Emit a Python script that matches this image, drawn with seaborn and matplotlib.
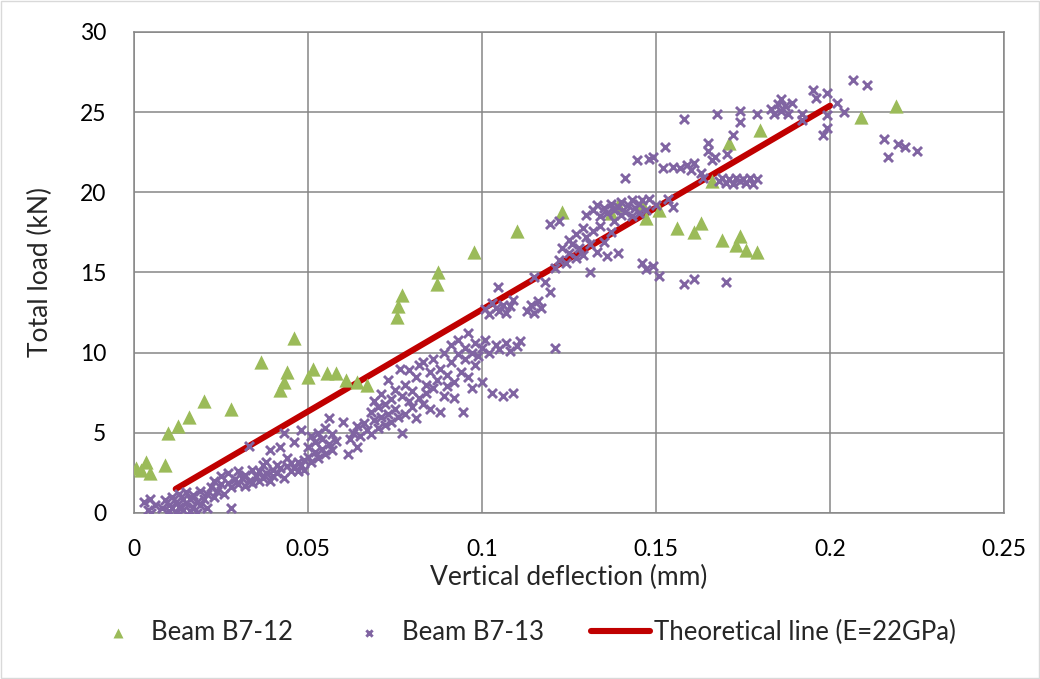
import numpy as np
import pandas as pd
import seaborn as sns
import matplotlib.pyplot as plt
from matplotlib.patches import Rectangle

# Beam B7-12 (green triangles)
b12_x = [0.0006, 0.002, 0.0035, 0.0046, 0.009, 0.0098, 0.0126, 0.0158, 0.020, 0.028,
         0.0365, 0.042, 0.043, 0.044, 0.046, 0.050, 0.0515, 0.0555, 0.058, 0.061,
         0.064, 0.067, 0.0756, 0.076, 0.077, 0.087, 0.0873, 0.0977, 0.110, 0.123,
         0.137, 0.139, 0.146, 0.147, 0.151, 0.156, 0.161, 0.163, 0.166, 0.169,
         0.171, 0.173, 0.174, 0.176, 0.179, 0.180, 0.209, 0.219]
b12_y = [2.8, 2.7, 3.2, 2.5, 3.0, 5.0, 5.4, 6.0, 7.0, 6.5,
         9.4, 7.7, 8.2, 8.8, 10.9, 8.5, 9.0, 8.7, 8.7, 8.3,
         8.2, 8.0, 12.2, 12.9, 13.6, 14.3, 15.0, 16.3, 17.6, 18.8,
         18.7, 19.2, 19.3, 18.4, 18.9, 17.8, 17.5, 18.1, 20.7, 17.0,
         23.1, 16.7, 17.3, 16.4, 16.3, 23.9, 24.7, 25.4]

# Beam B7-13 (purple crosses)
b13_x = [
    0.003, 0.004, 0.005, 0.006, 0.0045, 0.008, 0.009, 0.010, 0.010, 0.011,
    0.011, 0.012, 0.012, 0.013, 0.013, 0.014, 0.014, 0.015, 0.015, 0.016,
    0.016, 0.017, 0.017, 0.018, 0.018, 0.019, 0.019, 0.020, 0.021, 0.021,
    0.022, 0.023, 0.023, 0.024, 0.025, 0.025, 0.026, 0.027, 0.027, 0.028,
    0.028, 0.029, 0.030, 0.030, 0.031, 0.032, 0.032, 0.033, 0.033, 0.034,
    0.034, 0.035,
    0.036, 0.036, 0.037, 0.037, 0.038, 0.038, 0.039, 0.039, 0.040, 0.040,
    0.041, 0.041, 0.042, 0.042, 0.043, 0.043, 0.044, 0.044, 0.045, 0.045,
    0.046, 0.046, 0.047, 0.047, 0.048, 0.048, 0.049, 0.049,
    0.050, 0.050, 0.051, 0.051, 0.052, 0.052, 0.053, 0.053, 0.054, 0.054,
    0.055, 0.055, 0.056, 0.056, 0.057, 0.057, 0.058, 0.060, 0.0615, 0.062,
    0.063, 0.064, 0.064, 0.065, 0.066, 0.067, 0.068, 0.068, 0.069, 0.069,
    0.070, 0.070, 0.071, 0.071, 0.072, 0.072, 0.073, 0.073, 0.074, 0.074,
    0.075, 0.075, 0.076, 0.0765, 0.077, 0.077,
    0.078, 0.078, 0.079, 0.079, 0.080, 0.080, 0.081, 0.081, 0.082, 0.082,
    0.083, 0.083, 0.084, 0.084, 0.085, 0.085, 0.086, 0.086, 0.087, 0.088,
    0.088, 0.089, 0.089, 0.090, 0.090, 0.091, 0.091, 0.092, 0.092, 0.093,
    0.093, 0.094, 0.0945, 0.095, 0.095, 0.096, 0.096, 0.097, 0.097, 0.098,
    0.098, 0.099,
    0.100, 0.100, 0.101, 0.101, 0.102, 0.102, 0.103, 0.103, 0.104, 0.104,
    0.1046, 0.105, 0.105, 0.106, 0.106, 0.107, 0.107, 0.108, 0.108, 0.109,
    0.109, 0.110, 0.111, 0.113, 0.114, 0.115, 0.115, 0.116, 0.117, 0.118,
    0.1196, 0.121,
    0.1195, 0.121, 0.122, 0.122, 0.123, 0.124, 0.125, 0.125, 0.126, 0.127,
    0.127, 0.128, 0.129, 0.129, 0.130, 0.130, 0.131, 0.131, 0.132, 0.132,
    0.133, 0.133, 0.134, 0.134, 0.135, 0.135, 0.136, 0.136, 0.137, 0.137,
    0.138, 0.138, 0.139, 0.139, 0.140, 0.140, 0.141, 0.141, 0.142, 0.143,
    0.143, 0.144, 0.1445, 0.145, 0.145, 0.146, 0.146, 0.147, 0.147, 0.148,
    0.148, 0.149, 0.149, 0.150, 0.151, 0.152,
    0.1526, 0.1535, 0.155, 0.155, 0.157, 0.158, 0.158, 0.159, 0.160, 0.161,
    0.161, 0.163, 0.1635, 0.165, 0.165, 0.166, 0.1675, 0.167, 0.168, 0.169,
    0.170, 0.170, 0.1705, 0.171, 0.172, 0.172, 0.173, 0.174, 0.174, 0.174,
    0.175, 0.176, 0.177, 0.178, 0.179, 0.179,
    0.183, 0.184, 0.185, 0.186, 0.186, 0.187, 0.188, 0.189, 0.192, 0.192,
    0.195, 0.196, 0.198, 0.199, 0.199, 0.199, 0.202, 0.204, 0.2067, 0.2107,
    0.2155, 0.2167, 0.2196, 0.2216, 0.225]
b13_y = [
    0.7, 0.2, 0.0, 0.5, 0.9, 0.3, 0.8, 0.1, 0.5, 1.0,
    0.3, 0.7, 0.0, 1.2, 0.4, 0.9, 0.2, 0.6, 1.3, 0.1,
    0.9, 0.4, 1.1, 0.7, 0.0, 1.4, 0.5, 0.9, 0.3, 1.2,
    1.6, 1.0, 2.0, 1.4, 1.8, 2.3, 1.2, 1.9, 2.5, 0.3,
    1.6, 2.1, 1.8, 2.6, 2.2, 1.7, 2.4, 2.0, 4.2, 2.7,
    1.9, 2.3,
    2.6, 2.0, 3.0, 2.2, 2.5, 3.2, 2.0, 3.9, 2.7, 2.3,
    3.0, 2.5, 2.8, 4.1, 2.2, 5.0, 2.9, 3.4, 2.6, 3.1,
    2.8, 4.4, 3.2, 2.6, 3.0, 5.2, 3.3, 2.7,
    3.5, 4.1, 3.2, 4.8, 3.8, 4.4, 3.4, 5.0, 4.0, 4.6,
    3.7, 5.3, 4.3, 5.9, 3.9, 4.9, 4.5, 5.7, 3.7, 4.6,
    5.0, 4.1, 5.4, 4.8, 5.6, 5.2, 4.9, 6.3, 5.8, 7.0,
    5.3, 6.6, 6.0, 7.4, 5.5, 6.8, 8.3, 6.2, 7.1, 5.7,
    6.5, 7.7, 6.0, 9.0, 7.3, 5.0,
    6.2, 8.0, 7.0, 8.9, 6.6, 7.6, 8.5, 5.9, 7.2, 9.2,
    9.4, 6.8, 8.0, 7.5, 8.8, 6.5, 7.8, 9.6, 8.3, 6.3,
    9.0, 7.3, 10.0, 8.6, 7.9, 9.4, 10.5, 8.2, 7.2, 9.9,
    10.8, 8.8, 6.3, 9.6, 10.3, 8.5, 11.2, 10.0, 7.8, 9.2,
    10.6, 9.8,
    8.2, 10.3, 10.8, 12.7, 12.4, 10.0, 7.5, 13.1, 12.8, 10.5,
    14.1, 12.6, 10.2, 7.3, 13.0, 12.5, 10.6, 12.9, 10.1, 7.5,
    13.3, 10.4, 10.7, 12.6, 13.0, 12.5, 14.7, 13.2, 12.8, 14.4,
    13.8, 10.3,
    18.0, 15.3, 18.2, 15.8, 16.5, 15.6, 16.2, 17.0, 16.8, 15.9,
    17.4, 16.5, 17.8, 16.1, 17.2, 18.6, 15.0, 16.8, 17.6, 18.9,
    16.3, 19.2, 17.9, 18.5, 16.9, 19.0, 16.0, 18.7, 17.5, 19.3,
    18.2, 18.9, 16.2, 19.1, 18.6, 19.4, 20.9, 18.8, 19.2, 18.5,
    19.5, 19.0, 22.0, 18.7, 19.3, 15.6, 19.5, 15.2, 18.9, 19.6,
    22.1, 15.4, 22.2, 19.2, 14.8, 21.5,
    22.8, 19.6, 19.1, 21.6, 21.5, 24.6, 14.3, 21.7, 21.4, 21.8,
    14.6, 21.2, 20.9, 22.6, 23.1, 22.0, 24.9, 22.2, 20.7, 20.9,
    20.6, 14.4, 22.4, 20.8, 23.6, 20.5, 20.9, 25.1, 24.4, 20.7,
    20.8, 20.6, 20.9, 20.5, 24.9, 20.8,
    25.2, 24.9, 25.5, 25.8, 25.1, 25.4, 24.9, 25.6, 24.9, 24.5,
    26.4, 25.9, 23.6, 26.2, 24.8, 24.0, 25.6, 25.0, 27.0, 26.7,
    23.3, 22.2, 23.0, 22.8, 22.6]

# Theoretical line (E=22GPa)
theory_x = [0.012, 0.2]
theory_y = [1.5, 25.4]

df12 = pd.DataFrame({'x': b12_x, 'y': b12_y})
df13 = pd.DataFrame({'x': b13_x, 'y': b13_y})
dft = pd.DataFrame({'x': theory_x, 'y': theory_y})

sns.set_style('white')
plt.rcParams['font.family'] = ['Lato', 'DejaVu Sans']

fig = plt.figure(figsize=(10.4, 6.79), dpi=100)
ax = fig.add_axes([0.1288, 0.2445, 0.8366, 0.7084])

sns.lineplot(data=dft, x='x', y='y', ax=ax, color='#C00000', linewidth=4.4,
             solid_capstyle='round', zorder=3, label='Theoretical line (E=22GPa)')
sns.scatterplot(data=df12, x='x', y='y', ax=ax, marker='^', color='#9BBB59', s=105,
                linewidth=0, zorder=4, label='Beam B7-12')
sns.scatterplot(data=df13, x='x', y='y', ax=ax, marker='x', color='#8064A2', s=42,
                linewidth=2.1, zorder=5, label='Beam B7-13')

ax.set_xlim(0, 0.25)
ax.set_ylim(0, 30)
ax.set_xticks([0, 0.05, 0.1, 0.15, 0.2, 0.25])
ax.set_xticklabels(['0', '0.05', '0.1', '0.15', '0.2', '0.25'])
ax.set_yticks(range(0, 31, 5))
ax.grid(True, color='#868686', linewidth=1.1, zorder=0)
ax.set_axisbelow(True)
for sp in ax.spines.values():
    sp.set_color('#868686')
    sp.set_linewidth(1.1)
ax.tick_params(labelsize=16.5, colors='#000000', length=0)
ax.tick_params(axis='x', pad=19)
ax.tick_params(axis='y', pad=20)
ax.set_xlabel('Vertical deflection (mm)', fontsize=19, va='center')
ax.set_ylabel('Total load (kN)', fontsize=19, va='center')
ax.xaxis.set_label_coords(0.5, -0.135)
ax.yaxis.set_label_coords(-0.108, 0.5)

handles, labels = ax.get_legend_handles_labels()
order = [labels.index('Beam B7-12'), labels.index('Beam B7-13'),
         labels.index('Theoretical line (E=22GPa)')]
ax.get_legend().remove()
fig.legend([handles[i] for i in order], [labels[i] for i in order], loc='center left',
           bbox_to_anchor=(0.085, 0.069), ncol=3, frameon=False, fontsize=18.5,
           handlelength=2.3, columnspacing=1.8, handletextpad=0.15, markerscale=0.7,
           borderpad=0, borderaxespad=0)

fig.patches.append(Rectangle((0.001, 0.001), 0.998, 0.998, transform=fig.transFigure,
                             fill=False, edgecolor='#D9D9D9', linewidth=1))

fig.savefig('out.png', dpi=100)
